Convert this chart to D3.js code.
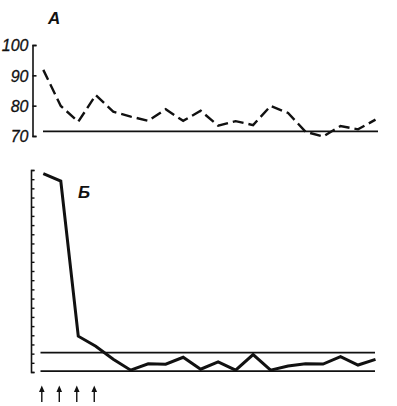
<!DOCTYPE html>
<html>
<head>
<meta charset="utf-8">
<script src="https://cdn.jsdelivr.net/npm/d3@7"></script>
<style>
  html, body { margin: 0; padding: 0; background: #fff; }
  svg { display: block; }
  text { font-family: "Liberation Sans", Arial, sans-serif; }
</style>
</head>
<body>
<svg id="chart" width="397" height="406"></svg>
<script>
// Panel A (dashed series), values in %
const seriesA = [91.8, 79.9, 74.7, 83.5, 78.0, 76.4, 75.0, 78.8, 75.0, 78.3,
                 73.4, 74.9, 73.6, 79.9, 77.6, 71.4, 69.8, 73.3, 72.2, 75.4];
const baselineA = 71.5;
const ticksA = [70, 80, 90, 100];

// Panel Б (solid series), in tick units (unlabelled axis)
const seriesB = [21.6, 20.8, 3.9, 2.8, 1.4, 0.2, 0.9, 0.85, 1.6, 0.3,
                 1.1, 0.2, 1.9, 0.2, 0.65, 0.9, 0.87, 1.67, 0.76, 1.38];
const limitsB = [0.1, 2.1];
const ticksB = d3.range(0, 23);

// Arrows under the first samples
const arrowIdx = [0, 1, 2, 3];

const labelA = "А";
const labelB = "Б";

const svg = d3.select("#chart");
const n = seriesA.length;
const x = d3.scaleLinear().domain([0, n - 1]).range([43.3, 375.5]);

// ---------- Panel A ----------
const yA = d3.scaleLinear().domain([70, 100]).range([136, 45]);
const gA = svg.append("g");

const axA = d3.axisLeft(yA).tickValues(ticksA).tickSize(-4).tickSizeOuter(-4).tickPadding(4);
const gAxA = svg.append("g").attr("transform", "translate(32.5,0)").call(axA);
gAxA.select(".domain").attr("stroke", "#111").attr("stroke-width", 1.6);
gAxA.selectAll(".tick line").attr("stroke", "#111").attr("stroke-width", 1.6);
gAxA.selectAll(".tick text")
  .attr("font-size", 16).attr("font-style", "italic").attr("fill", "#111")
  .attr("stroke", "#111").attr("stroke-width", 0.3)
  .attr("dy", "0.36em");

gA.append("line")
  .attr("x1", 43).attr("x2", 378)
  .attr("y1", yA(baselineA)).attr("y2", yA(baselineA))
  .attr("stroke", "#111").attr("stroke-width", 1.8);

gA.append("path")
  .datum(seriesA)
  .attr("fill", "none").attr("stroke", "#111").attr("stroke-width", 2.4)
  .attr("stroke-dasharray", "11,5")
  .attr("d", d3.line().x((d, i) => x(i)).y(d => yA(d)));

svg.append("text").attr("x", 48).attr("y", 24)
  .attr("font-size", 17).attr("font-style", "italic").attr("font-weight", "bold")
  .attr("fill", "#111").text(labelA);

// ---------- Panel Б ----------
const yB = d3.scaleLinear().domain([0, 22]).range([372, 170]);
const axB = d3.axisLeft(yB).tickValues(ticksB).tickSize(-3.5).tickSizeOuter(-3.5).tickFormat("");
const gAxB = svg.append("g").attr("transform", "translate(31,0)").call(axB);
gAxB.select(".domain").attr("stroke", "#111").attr("stroke-width", 1.6);
gAxB.selectAll(".tick line").attr("stroke", "#111").attr("stroke-width", 1.4);

const gB = svg.append("g");
limitsB.forEach(v => {
  gB.append("line")
    .attr("x1", 40.5).attr("x2", 375)
    .attr("y1", yB(v)).attr("y2", yB(v))
    .attr("stroke", "#111").attr("stroke-width", 1.8);
});

gB.append("path")
  .datum(seriesB)
  .attr("fill", "none").attr("stroke", "#111").attr("stroke-width", 3)
  .attr("stroke-linejoin", "miter")
  .attr("d", d3.line().x((d, i) => x(i)).y(d => yB(d)));

svg.append("text").attr("x", 78).attr("y", 198)
  .attr("font-size", 17).attr("font-style", "italic").attr("font-weight", "bold")
  .attr("fill", "#111").text(labelB);

// ---------- Arrows ----------
const gArr = svg.append("g");
arrowIdx.forEach(i => {
  const ax = x(i) - 1.5;
  gArr.append("line")
    .attr("x1", ax).attr("x2", ax).attr("y1", 390).attr("y2", 402)
    .attr("stroke", "#111").attr("stroke-width", 1.4);
  gArr.append("path")
    .attr("d", `M${ax},385.5 L${ax - 2.8},392 L${ax + 2.8},392 Z`)
    .attr("fill", "#111");
});
</script>
</body>
</html>
